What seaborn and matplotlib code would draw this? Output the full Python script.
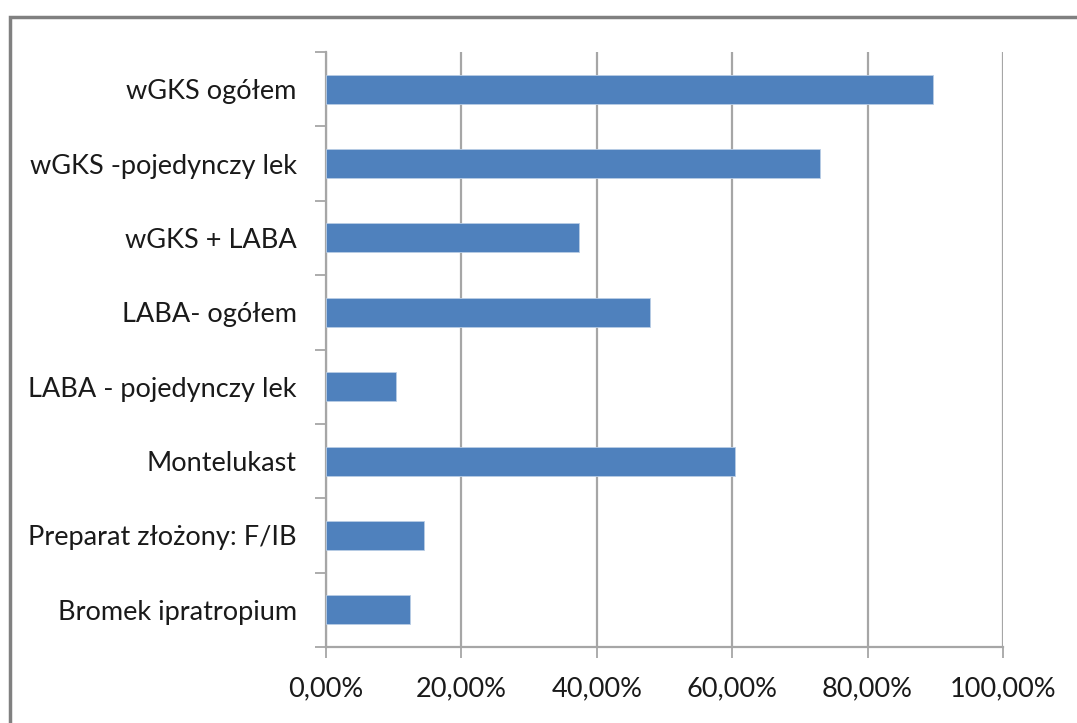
import matplotlib
matplotlib.use("Agg")
import matplotlib.pyplot as plt
import matplotlib.patches as mpatches
from matplotlib.ticker import FixedLocator, FuncFormatter
import numpy as np
import pandas as pd
import seaborn as sns

# Leki stosowane w terapii (odsetek pacjentów)
categories = [
    "wGKS ogółem",
    "wGKS -pojedynczy lek",
    "wGKS + LABA",
    "LABA- ogółem",
    "LABA - pojedynczy lek",
    "Montelukast",
    "Preparat złożony: F/IB",
    "Bromek ipratropium",
]
shares = [0.897, 0.729, 0.374, 0.479, 0.104, 0.604, 0.145, 0.124]
x_ticks = [0.0, 0.2, 0.4, 0.6, 0.8, 1.0]

df = pd.DataFrame({"lek": categories, "odsetek": shares})

sns.set_theme(style="white")
plt.rcParams["font.family"] = ["Lato", "DejaVu Sans"]

grid_col = "#A6A6A6"
bar_col = "#4F81BD"
text_col = "#1a1a1a"

fig = plt.figure(figsize=(10.77, 7.23), dpi=100)
ax = fig.add_axes([326 / 1077, 1 - 647 / 723, 677 / 1077, 595 / 723])

sns.barplot(data=df, x="odsetek", y="lek", order=categories, orient="h",
            color=bar_col, saturation=1, width=0.39, ax=ax,
            edgecolor="#B9CDE5", linewidth=0.6, zorder=3)

ax.set_xlim(0, 1.0)
ax.set_ylim(len(categories) - 0.5, -0.5)
ax.set_xlabel("")
ax.set_ylabel("")

ax.xaxis.set_major_locator(FixedLocator(x_ticks))
ax.xaxis.set_major_formatter(FuncFormatter(lambda v, p: f"{v * 100:.2f}%".replace(".", ",")))
ax.grid(axis="x", color=grid_col, linewidth=1.6, zorder=0)
ax.grid(axis="y", visible=False)

# category separators as outward ticks on the category axis
ax.yaxis.set_minor_locator(FixedLocator(np.arange(-0.5, len(categories), 1.0)))
ax.tick_params(axis="y", which="major", length=0, pad=21, labelsize=19.5, labelcolor=text_col)
ax.tick_params(axis="y", which="minor", left=True, length=8, width=1.3, color=grid_col)
ax.tick_params(axis="x", which="major", bottom=True, length=8, width=1.3, color=grid_col,
               pad=13, labelsize=19.5, labelcolor=text_col)

for side in ["top", "right"]:
    ax.spines[side].set_visible(False)
for side in ["left", "bottom"]:
    ax.spines[side].set_color(grid_col)
    ax.spines[side].set_linewidth(1.6)

# outer chart frame
frame = mpatches.Rectangle((10 / 1077, -0.1), 1.2, 1 - 17 / 723 + 0.1,
                           transform=fig.transFigure, fill=False,
                           edgecolor="#808080", linewidth=2.5, zorder=10)
fig.patches.append(frame)

fig.savefig("out.png", dpi=100)
